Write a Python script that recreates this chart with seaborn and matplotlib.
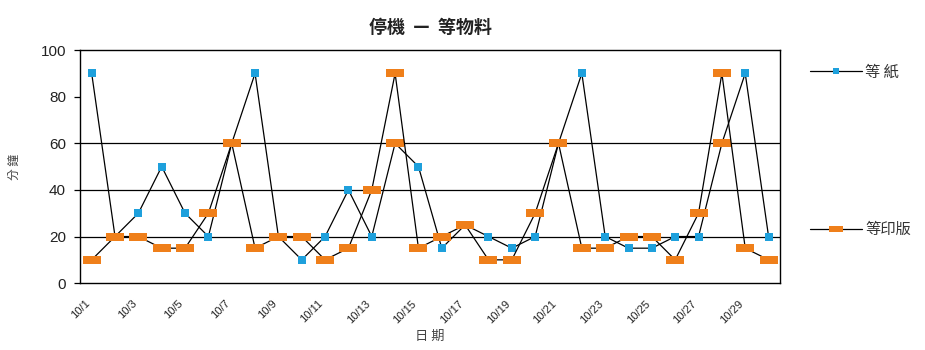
import numpy as np
import pandas as pd
import seaborn as sns
import matplotlib.pyplot as plt

# data (minutes per day, October)
dates = [f"10/{d}" for d in range(1, 31)]
paper = [90, 20, 30, 50, 30, 20, 60, 90, 20, 10, 20, 40, 20, 60, 50,
         15, 25, 20, 15, 20, 60, 90, 20, 15, 15, 20, 20, 60, 90, 20]
plate = [10, 20, 20, 15, 15, 30, 60, 15, 20, 20, 10, 15, 40, 90, 15,
         20, 25, 10, 10, 30, 60, 15, 15, 20, 20, 10, 30, 90, 15, 10]
series_names = ["等 紙", "等印版"]
y_ticks = [0, 20, 40, 60, 80, 100]
grid_levels = [20, 40, 60]

sns.set_theme(style="white")
plt.rcParams["font.family"] = ["Noto Sans CJK TC", "DejaVu Sans"]

df = pd.DataFrame({"day": np.arange(len(dates)), "paper": paper, "plate": plate})

blue = "#1ea0dc"
orange = "#ef7f1a"
rect = [(-1, -0.5), (1, -0.5), (1, 0.5), (-1, 0.5)]  # wide box marker

fig = plt.figure(figsize=(9.25, 3.5), dpi=100)
ax = fig.add_axes([0.0865, 0.191, 0.757, 0.666])

for lvl in grid_levels:
    ax.axhline(lvl, color="black", lw=0.9, zorder=1)

sns.lineplot(data=df, x="day", y="paper", ax=ax, color="black", linewidth=0.9,
             marker="s", markersize=6.2, markerfacecolor=blue,
             markeredgecolor=blue, markeredgewidth=0, zorder=3)
h_paper = ax.lines[-1]

# in the original, the 60-minute paper points carry the orange box
hit = df[df["paper"] == 60]
ax.plot(hit["day"], hit["paper"], ls="none", marker=rect, markersize=12.5,
        color=orange, markeredgewidth=0, zorder=4)

sns.lineplot(data=df, x="day", y="plate", ax=ax, color="black", linewidth=0.9,
             marker=rect, markersize=12.5, markerfacecolor=orange,
             markeredgecolor=orange, markeredgewidth=0, zorder=4)
h_plate = ax.lines[-1]

ax.set_xlim(-0.5, len(dates) - 0.5)
ax.set_ylim(0, 100)
ax.set_yticks(y_ticks)
ax.set_xticks(df["day"][::2] - 0.3)
ax.set_xticklabels(dates[::2], rotation=45, ha="right", rotation_mode="anchor",
                   fontsize=8, family="Liberation Sans", color="#222222")
for lbl in ax.get_yticklabels():
    lbl.set_fontfamily("Liberation Sans")
ax.tick_params(axis="y", left=True, length=4, width=0.9, color="black",
               labelsize=11, labelcolor="#222222", pad=6)
ax.tick_params(axis="x", bottom=False, pad=5)

for sp in ax.spines.values():
    sp.set_visible(True)
    sp.set_color("black")
    sp.set_linewidth(1)

ax.set_xlabel("日 期", fontsize=9.5, color="#444444", labelpad=3)
ax.set_ylabel("分 鐘", fontsize=8.5, color="#444444", labelpad=14)
ax.set_title("停機  —  等物料", fontsize=13, fontweight="bold", color="#222222", pad=12)

fig.legend(handles=[h_paper, h_plate], labels=series_names, loc="upper left",
           bbox_to_anchor=(0.861, 0.858), frameon=False, fontsize=11,
           handlelength=3.4, handletextpad=0.2, labelspacing=9.2,
           markerscale=0.75, labelcolor="#333333")

fig.savefig("out.png", dpi=100, facecolor="white")
